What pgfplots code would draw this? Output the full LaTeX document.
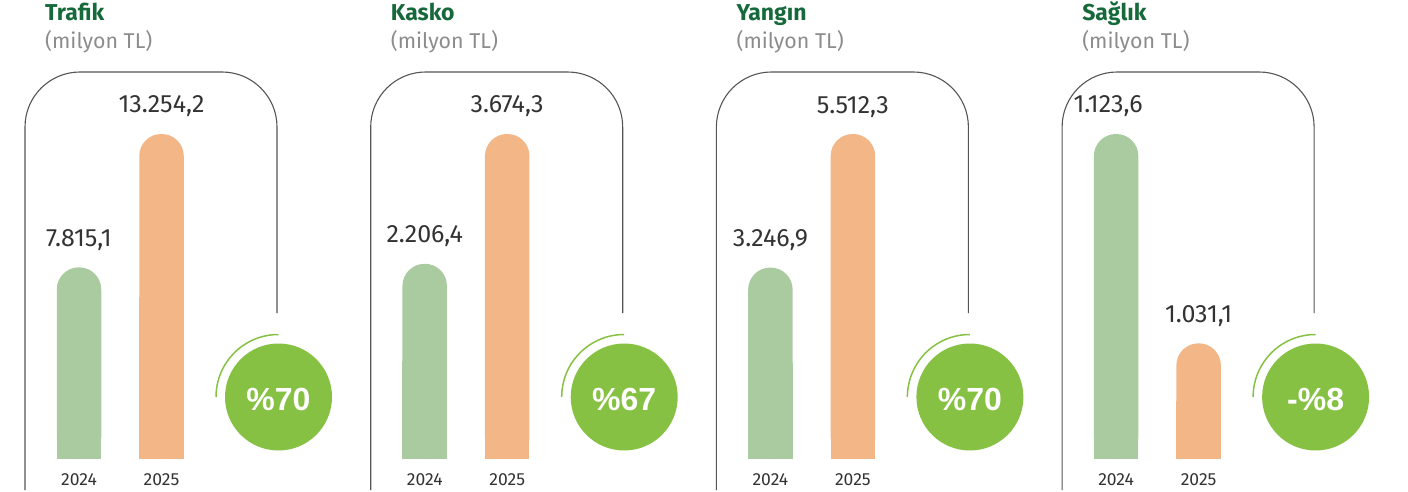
\documentclass[border=0pt]{standalone}
\usepackage{pgfplots}
\pgfplotsset{compat=1.18}
\usepackage{fontspec}
\setmainfont{Fira Sans}
\newfontfamily\arialfont{Liberation Sans}
\definecolor{bargreen}{HTML}{A9CB9F}
\definecolor{barorange}{HTML}{F3B686}
\definecolor{circgreen}{HTML}{86C143}
\definecolor{titlegreen}{HTML}{16693A}
\definecolor{subgray}{HTML}{8C8C8C}
\definecolor{txtgray}{HTML}{333333}
\definecolor{framegray}{HTML}{555555}

% #1 dx, #2 title, #3 v2024, #4 v2025, #5 ymin, #6 ymax, #7 ymax underlay, #8 pct, #9 xshift of 2024 label
\newcommand\panel[9]{%
  \pgfmathsetmacro\tx{45+#1}%
  \pgfmathsetmacro\ax{29.5+#1}%
  \pgfmathsetmacro\fl{25+#1}%
  \pgfmathsetmacro\fr{277+#1}%
  \pgfmathsetmacro\cx{278.5+#1}%
  \node[anchor=base west, inner sep=0pt, text=titlegreen, font=\fontsize{23}{27}\selectfont\bfseries] at (\tx pt,470pt) {#2};
  \node[anchor=base west, inner sep=0pt, text=subgray, font=\fontsize{21.4}{25}\selectfont] at (\tx pt,442pt) {(milyon TL)};
  \draw[framegray, line width=1.1pt, rounded corners=55pt] (\fl pt,1pt) -- (\fl pt,419pt) -- (\fr pt,419pt) -- (\fr pt,178pt);
  % underlay: square lower part of the bars (same data, doubled scale)
  \begin{axis}[at={(\ax pt,32pt)}, anchor=south west, scale only axis,
    width=181.5pt, height=369pt, xmin=-0.6, xmax=1.6, ymin=#5, ymax=#7,
    ybar, bar width=44.5pt, hide axis]
    \addplot[fill=bargreen, draw=none, bar shift=0pt] coordinates {(0,#3)};
    \addplot[fill=barorange, draw=none, bar shift=0pt] coordinates {(1,#4)};
  \end{axis}
  \begin{axis}[at={(\ax pt,32pt)}, anchor=south west, scale only axis,
    width=181.5pt, height=369pt, xmin=-0.6, xmax=1.6, ymin=#5, ymax=#6,
    ybar, bar width=44.5pt,
    axis line style={draw=none}, tick style={draw=none}, ytick=\empty,
    xtick={0,1}, xticklabels={2024,2025},
    xticklabel style={anchor=base, yshift=-22.5pt, font=\fontsize{17.5}{20}\selectfont, text=txtgray},
    nodes near coords={\pgfmathprintnumber[fixed,fixed zerofill,precision=1,use comma,1000 sep={.},assume math mode=true]{\pgfplotspointmeta}},
    nodes near coords style={anchor=base, yshift=21pt, font=\fontsize{25}{29}\selectfont, text=txtgray},
  ]
    \addplot[fill=bargreen, draw=none, bar shift=0pt, rounded corners=22pt,
      every node near coord/.append style={xshift=#9pt}] coordinates {(0,#3)};
    \addplot[fill=barorange, draw=none, bar shift=0pt, rounded corners=22pt] coordinates {(1,#4)};
  \end{axis}
  \fill[circgreen] (\cx pt,94pt) circle[radius=53.5pt];
  \draw[circgreen, line width=1.5pt] (\cx pt,156.5pt) arc[start angle=90,end angle=180,radius=62.5pt];
  \node[text=white, font=\arialfont\bfseries\fontsize{32}{36}\selectfont] at (\cx pt,92pt) {#8};
}

\begin{document}
\begin{tikzpicture}
\useasboundingbox (0pt,0pt) rectangle (1408pt,491pt);
\panel{0}{Trafik}{7815.1}{13254.2}{0}{15048.6}{30097.2}{\%70}{0}
\panel{345.7}{Kasko}{2206.4}{3674.3}{0}{4171.7}{8343.4}{\%67}{0}
\panel{691.4}{Yangın}{3246.9}{5512.3}{0}{6258.6}{12517.2}{\%70}{0}
\panel{1037.1}{Sağlık}{1123.6}{1031.1}{980}{1143.04}{1306.08}{-\%8}{-8}
\end{tikzpicture}
\end{document}
